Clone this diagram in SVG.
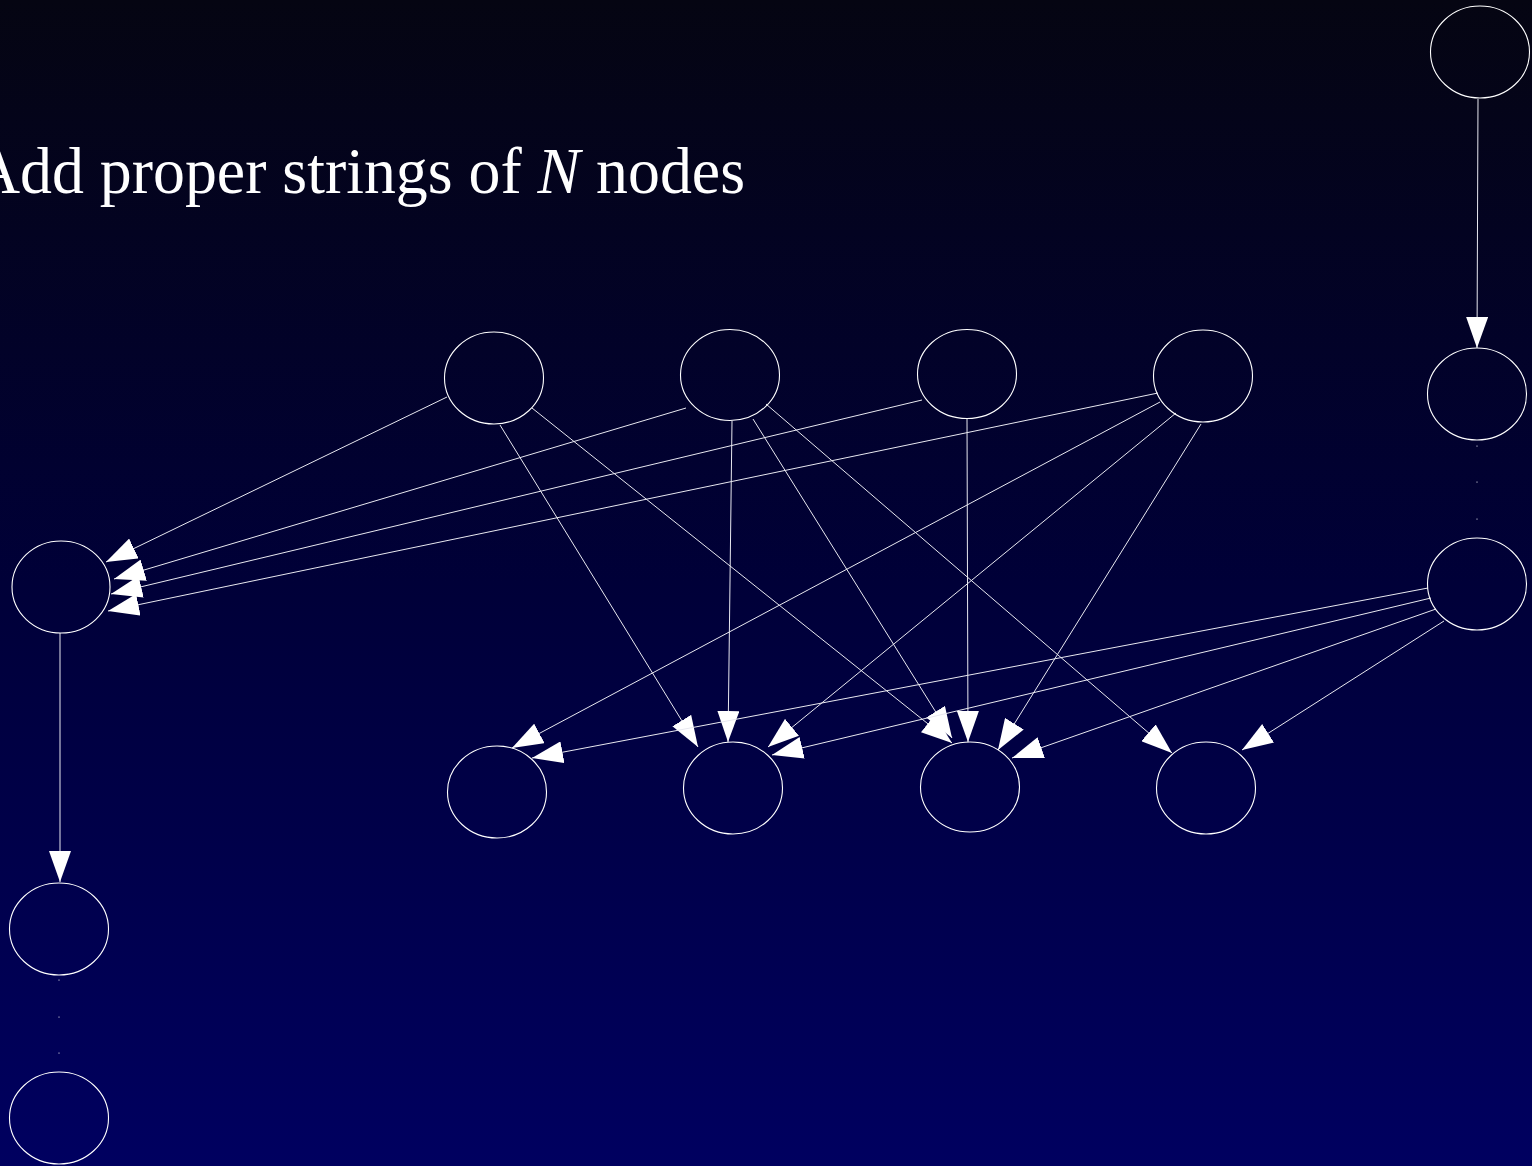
<svg xmlns="http://www.w3.org/2000/svg" width="1532" height="1166" viewBox="0 0 1532 1166">
  <defs>
    <linearGradient id="bg" x1="0" y1="0" x2="0" y2="1">
      <stop offset="0" stop-color="#050512"/>
      <stop offset="0.5" stop-color="#000038"/>
      <stop offset="1" stop-color="#000060"/>
    </linearGradient>
    <marker id="arrow" viewBox="0 -11 31 22" refX="31" refY="0" markerWidth="31" markerHeight="22" markerUnits="userSpaceOnUse" orient="auto">
      <path d="M0,-11 L31,0 L0,11 Z" fill="#ffffff"/>
    </marker>
    <style>
      .node { fill: none; stroke: #ffffff; stroke-width: 1.1; }
      .edge { stroke: #e8e8f0; stroke-width: 1; fill: none; marker-end: url(#arrow); }
      .dot { fill: #c8c8d8; }
      .title { font-family: "Liberation Serif", "Times New Roman", serif; font-size: 66px; fill: #ffffff; }
    </style>
  </defs>

  <rect x="0" y="0" width="1532" height="1166" fill="url(#bg)"/>

  <text class="title" x="-26" y="193" textLength="771" lengthAdjust="spacingAndGlyphs">Add proper strings of <tspan font-style="italic">N</tspan> nodes</text>

  <!-- connectors -->
  <g id="edges">
    <line class="edge" x1="447" y1="397" x2="106" y2="562"/>
    <line class="edge" x1="686" y1="408" x2="114" y2="579"/>
    <line class="edge" x1="922" y1="400" x2="111" y2="594"/>
    <line class="edge" x1="1158" y1="393" x2="108" y2="611"/>
    <line class="edge" x1="500" y1="425" x2="698" y2="747"/>
    <line class="edge" x1="532" y1="408" x2="952" y2="743"/>
    <line class="edge" x1="732" y1="421" x2="728" y2="742"/>
    <line class="edge" x1="753" y1="419" x2="952" y2="738"/>
    <line class="edge" x1="766" y1="404" x2="1172" y2="753"/>
    <line class="edge" x1="967" y1="418" x2="968" y2="742"/>
    <line class="edge" x1="1160" y1="402" x2="512" y2="748"/>
    <line class="edge" x1="1176" y1="413" x2="768" y2="747"/>
    <line class="edge" x1="1201" y1="424" x2="998" y2="750"/>
    <line class="edge" x1="1428" y1="588" x2="532" y2="758"/>
    <line class="edge" x1="1431" y1="598" x2="772" y2="755"/>
    <line class="edge" x1="1436" y1="609" x2="1012" y2="758"/>
    <line class="edge" x1="1444" y1="621" x2="1242" y2="750"/>
    <line class="edge" x1="1478" y1="99" x2="1477" y2="348"/>
    <line class="edge" x1="60" y1="633" x2="60" y2="882"/>
    <!-- dotted continuation marks -->
    <rect class="dot" x="1476.5" y="445.5" width="1" height="1.2"/>
    <rect class="dot" x="1476.5" y="481.5" width="1" height="1.2"/>
    <rect class="dot" x="1476.5" y="518.5" width="1" height="1.2"/>
    <rect class="dot" x="58.5" y="979.5" width="1" height="1.2"/>
    <rect class="dot" x="58.5" y="1016.5" width="1" height="1.2"/>
    <rect class="dot" x="58.5" y="1052.5" width="1" height="1.2"/>
  </g>

  <!-- nodes -->
  <g id="n1"><ellipse class="node" cx="494" cy="378" rx="49.5" ry="46"/></g>
  <g id="n2"><ellipse class="node" cx="730" cy="375" rx="49.5" ry="45.5"/></g>
  <g id="n3"><ellipse class="node" cx="967" cy="374" rx="49.5" ry="44.5"/></g>
  <g id="n4"><ellipse class="node" cx="1203" cy="376" rx="49.5" ry="46"/></g>
  <g id="b1"><ellipse class="node" cx="497" cy="792" rx="49.5" ry="46"/></g>
  <g id="b2"><ellipse class="node" cx="733" cy="788" rx="49.5" ry="46"/></g>
  <g id="b3"><ellipse class="node" cx="970" cy="787" rx="49.5" ry="45"/></g>
  <g id="b4"><ellipse class="node" cx="1206" cy="788" rx="49.5" ry="46"/></g>
  <g id="L1"><ellipse class="node" cx="61" cy="587" rx="49" ry="46"/></g>
  <g id="L2"><ellipse class="node" cx="59" cy="929" rx="49.5" ry="46"/></g>
  <g id="L3"><ellipse class="node" cx="59" cy="1118" rx="49.5" ry="46"/></g>
  <g id="R1"><ellipse class="node" cx="1480" cy="52" rx="49.5" ry="46"/></g>
  <g id="R2"><ellipse class="node" cx="1477" cy="394" rx="49.5" ry="46"/></g>
  <g id="R3"><ellipse class="node" cx="1477" cy="584" rx="49.5" ry="46"/></g>
</svg>
